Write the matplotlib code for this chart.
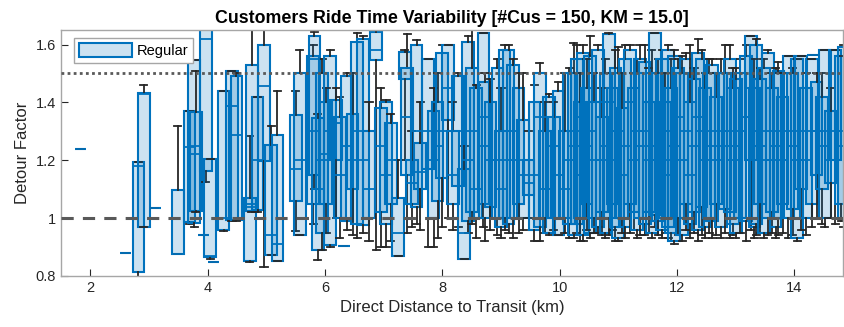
import matplotlib
matplotlib.use("Agg")
import matplotlib.pyplot as plt
from matplotlib.patches import Patch

plt.rcParams["font.family"] = ["Liberation Sans", "DejaVu Sans"]

# per-customer direct distance (km) and ride-time detour statistics
dist = [1.83, 2.60, 2.82, 2.91, 3.10, 3.49, 3.69, 3.77, 3.80, 3.93,
        3.97, 4.04, 4.10, 4.27, 4.41, 4.49, 4.72, 4.75, 4.85, 4.96,
        5.08, 5.19, 5.50, 5.57, 5.80, 5.82, 5.88, 5.95, 6.02, 6.09,
        6.19, 6.25, 6.32, 6.38, 6.47, 6.55, 6.65, 6.75, 6.87, 6.95,
        7.04, 7.12, 7.25, 7.36, 7.40, 7.48, 7.56, 7.62, 7.76, 7.85,
        7.92, 8.00, 8.10, 8.18, 8.27, 8.37, 8.44, 8.50, 8.58, 8.70,
        8.72, 8.82, 8.94, 9.00, 9.06, 9.13, 9.21, 9.30, 9.38, 9.47,
        9.57, 9.66, 9.75, 9.82, 9.90, 9.98, 10.09, 10.16, 10.24, 10.29,
        10.35, 10.40, 10.46, 10.52, 10.58, 10.65, 10.72, 10.78, 10.84, 10.90,
        10.95, 11.00, 11.06, 11.12, 11.20, 11.26, 11.32, 11.37, 11.45, 11.52,
        11.57, 11.62, 11.68, 11.75, 11.80, 11.85, 11.90, 11.95, 12.02, 12.09,
        12.15, 12.22, 12.29, 12.36, 12.42, 12.48, 12.55, 12.60, 12.67, 12.75,
        12.82, 12.90, 12.95, 13.00, 13.08, 13.18, 13.26, 13.32, 13.35, 13.42,
        13.48, 13.55, 13.62, 13.68, 13.73, 13.80, 13.90, 13.97, 14.05, 14.12,
        14.20, 14.30, 14.32, 14.38, 14.47, 14.52, 14.62, 14.70, 14.80, 14.84]

whisk_lo = [1.24, 0.88, 0.78, 0.97, 1.035, 0.876, 0.98, 0.97, 1.02, 0.94,
            1.124, 0.86, 0.848, 0.955, 0.99, 0.99, 0.85, 1.02, 1.02, 0.83,
            0.872, 0.852, 0.955, 0.94, 0.98, 1.10, 0.855, 0.89, 0.95, 0.90,
            1.00, 0.93, 0.905, 0.96, 0.94, 0.93, 0.95, 0.92, 0.89, 0.90,
            0.90, 0.92, 0.87, 1.20, 0.95, 0.97, 0.98, 0.96, 0.90, 0.90,
            0.93, 0.97, 1.00, 0.96, 0.97, 0.86, 0.95, 0.98, 0.93, 0.97,
            0.92, 0.96, 0.94, 0.93, 0.96, 0.95, 0.93, 0.95, 0.96, 1.00,
            0.92, 0.92, 0.95, 0.94, 0.96, 0.94, 0.95, 0.93, 0.93, 0.95,
            0.92, 0.92, 0.96, 0.93, 0.95, 0.95, 0.94, 0.93, 0.94, 0.96,
            0.92, 0.92, 0.95, 0.93, 0.95, 0.96, 0.93, 0.94, 0.94, 0.95,
            0.93, 0.97, 0.94, 0.93, 0.95, 0.93, 0.92, 0.91, 0.94, 0.92,
            0.96, 0.93, 0.95, 0.92, 0.94, 0.93, 0.95, 0.93, 0.94, 0.93,
            0.95, 0.93, 0.94, 0.93, 0.95, 0.92, 0.96, 0.93, 0.94, 0.95,
            0.93, 0.94, 0.95, 0.93, 0.94, 0.95, 0.93, 0.94, 0.92, 0.96,
            0.94, 0.97, 1.565, 1.00, 0.98, 0.97, 1.00, 0.98, 0.99, 0.97]

q1 = [1.24, 0.88, 0.815, 0.97, 1.035, 0.876, 0.985, 0.983, 1.024, 0.94,
      1.162, 0.865, 0.848, 0.959, 0.993, 0.993, 0.852, 1.024, 1.028, 1.197,
      0.872, 0.852, 1.06, 0.94, 1.048, 1.148, 0.889, 0.95, 1.05, 0.907,
      1.20, 1.00, 0.905, 0.99, 1.10, 0.98, 0.976, 1.00, 1.545, 1.02,
      0.98, 1.05, 0.87, 1.48, 1.15, 1.05, 1.04, 1.10, 1.17, 1.00,
      1.06, 1.14, 1.34, 1.05, 1.11, 0.86, 0.99, 1.02, 1.00, 1.05,
      1.00, 1.04, 1.00, 0.97, 1.00, 0.98, 1.00, 1.05, 1.00, 1.08,
      0.96, 0.97, 1.00, 0.95, 1.00, 0.94, 1.00, 0.98, 0.94, 0.98,
      1.00, 0.94, 1.05, 0.95, 1.00, 0.97, 1.02, 0.95, 1.00, 1.05,
      0.97, 0.93, 1.00, 0.97, 1.05, 1.02, 0.96, 1.00, 0.98, 1.02,
      0.95, 1.01, 0.99, 0.96, 1.00, 0.97, 0.95, 0.92, 1.00, 0.94,
      1.05, 0.98, 1.02, 0.96, 1.04, 0.97, 1.00, 0.99, 1.05, 0.97,
      1.03, 1.02, 0.98, 0.95, 1.00, 0.99, 1.20, 0.97, 0.98, 1.05,
      0.95, 1.00, 1.02, 0.97, 1.00, 1.05, 1.00, 1.03, 0.93, 1.10,
      1.00, 1.05, 1.565, 1.15, 1.10, 1.00, 1.12, 1.20, 1.05, 1.00]

med = [1.24, 0.88, 1.18, 1.43, 1.035, 0.876, 1.245, 1.25, 1.22, 0.94,
       1.62, 0.87, 0.848, 1.00, 1.386, 1.286, 1.04, 1.05, 1.20, 1.455,
       0.94, 0.91, 1.17, 1.20, 1.30, 1.55, 1.10, 1.20, 1.22, 1.30,
       1.33, 1.15, 0.905, 1.25, 1.20, 1.30, 1.20, 1.10, 1.58, 1.25,
       1.15, 1.20, 0.95, 1.52, 1.35, 1.12, 1.30, 1.16, 1.30, 1.20,
       1.25, 1.30, 1.45, 1.15, 1.30, 0.95, 1.20, 1.30, 1.10, 1.35,
       1.25, 1.20, 1.20, 1.10, 1.30, 1.20, 1.30, 1.20, 1.15, 1.12,
       1.15, 1.35, 1.10, 1.10, 1.25, 1.15, 1.10, 1.20, 1.25, 1.30,
       1.15, 1.35, 1.25, 1.30, 1.20, 1.40, 1.20, 1.25, 1.40, 1.30,
       1.20, 1.30, 1.15, 1.25, 1.40, 1.20, 1.30, 1.25, 1.30, 1.20,
       1.25, 1.40, 1.20, 1.30, 1.15, 1.30, 1.20, 1.25, 1.35, 1.20,
       1.30, 1.15, 1.25, 1.35, 1.30, 1.20, 1.30, 1.25, 1.20, 1.30,
       1.25, 1.30, 1.20, 1.25, 1.30, 1.35, 1.45, 1.20, 1.30, 1.25,
       1.20, 1.30, 1.20, 1.25, 1.30, 1.20, 1.30, 1.25, 1.20, 1.30,
       1.20, 1.30, 1.565, 1.30, 1.25, 1.30, 1.20, 1.30, 1.30, 1.25]

q3 = [1.24, 0.88, 1.195, 1.434, 1.035, 1.097, 1.369, 1.545, 1.366, 0.94,
      1.70, 1.203, 0.848, 1.438, 1.507, 1.493, 1.069, 1.531, 1.417, 1.597,
      1.252, 1.286, 1.355, 1.50, 1.559, 1.631, 1.345, 1.50, 1.40, 1.562,
      1.41, 1.35, 0.905, 1.49, 1.36, 1.61, 1.62, 1.30, 1.645, 1.38,
      1.40, 1.33, 1.07, 1.575, 1.52, 1.20, 1.60, 1.26, 1.55, 1.37,
      1.40, 1.57, 1.60, 1.30, 1.49, 1.17, 1.61, 1.52, 1.45, 1.64,
      1.47, 1.40, 1.52, 1.30, 1.58, 1.58, 1.53, 1.45, 1.34, 1.20,
      1.40, 1.50, 1.30, 1.42, 1.35, 1.44, 1.30, 1.50, 1.50, 1.55,
      1.40, 1.57, 1.45, 1.56, 1.40, 1.58, 1.35, 1.50, 1.635, 1.45,
      1.52, 1.50, 1.38, 1.55, 1.58, 1.45, 1.50, 1.55, 1.54, 1.40,
      1.50, 1.64, 1.50, 1.55, 1.40, 1.58, 1.45, 1.56, 1.52, 1.50,
      1.55, 1.40, 1.48, 1.57, 1.55, 1.45, 1.50, 1.53, 1.42, 1.50,
      1.50, 1.55, 1.45, 1.48, 1.50, 1.56, 1.63, 1.45, 1.60, 1.48,
      1.52, 1.57, 1.45, 1.50, 1.51, 1.42, 1.56, 1.50, 1.55, 1.56,
      1.45, 1.55, 1.565, 1.47, 1.42, 1.58, 1.37, 1.58, 1.56, 1.59]

whisk_hi = [1.24, 0.88, 1.195, 1.46, 1.035, 1.32, 1.37, 1.545, 1.507, 0.94,
            1.75, 1.203, 0.848, 1.438, 1.507, 1.50, 1.283, 1.70, 1.417, 1.70,
            1.32, 1.441, 1.438, 1.58, 1.60, 1.645, 1.36, 1.55, 1.45, 1.58,
            1.45, 1.42, 0.905, 1.50, 1.50, 1.64, 1.63, 1.40, 1.65, 1.45,
            1.41, 1.36, 1.20, 1.58, 1.635, 1.30, 1.614, 1.40, 1.55, 1.45,
            1.50, 1.60, 1.60, 1.40, 1.50, 1.25, 1.63, 1.70, 1.46, 1.64,
            1.50, 1.48, 1.55, 1.45, 1.60, 1.597, 1.55, 1.50, 1.50, 1.30,
            1.46, 1.537, 1.40, 1.43, 1.40, 1.47, 1.50, 1.52, 1.607, 1.60,
            1.50, 1.60, 1.55, 1.63, 1.50, 1.60, 1.45, 1.55, 1.64, 1.50,
            1.58, 1.59, 1.50, 1.60, 1.60, 1.50, 1.55, 1.60, 1.60, 1.52,
            1.58, 1.64, 1.55, 1.58, 1.50, 1.60, 1.55, 1.58, 1.55, 1.56,
            1.57, 1.60, 1.52, 1.62, 1.58, 1.50, 1.55, 1.55, 1.50, 1.55,
            1.60, 1.60, 1.52, 1.52, 1.55, 1.60, 1.63, 1.55, 1.62, 1.52,
            1.55, 1.58, 1.50, 1.52, 1.54, 1.50, 1.56, 1.52, 1.55, 1.56,
            1.50, 1.55, 1.565, 1.50, 1.50, 1.58, 1.45, 1.58, 1.56, 1.60]

title = "Customers Ride Time Variability [#Cus = 150, KM = 15.0]"

stats = [
    {"whislo": lo, "q1": a, "med": m, "q3": b, "whishi": hi, "fliers": []}
    for lo, a, m, b, hi in zip(whisk_lo, q1, med, q3, whisk_hi)
]

blue = "#0072BD"
fill = (0.0, 0.447, 0.741, 0.2)

fig = plt.figure(figsize=(8.44, 3.27), dpi=100)
ax = fig.add_axes([0.0723, 0.156, 0.9265, 0.752])

ax.bxp(
    stats,
    positions=dist,
    widths=0.2,
    capwidths=0.12,
    patch_artist=True,
    showfliers=False,
    manage_ticks=False,
    boxprops=dict(facecolor=fill, edgecolor=blue, linewidth=1.5),
    medianprops=dict(color=blue, linewidth=1.3),
    whiskerprops=dict(color="#262626", linewidth=1.3),
    capprops=dict(color="#262626", linewidth=1.3),
)

ax.axhline(1.0, color="#595959", linestyle=(0, (4, 3)), linewidth=2.2, zorder=5)
ax.axhline(1.5, color="#595959", linestyle=(0, (1, 1.2)), linewidth=2.0, zorder=5)

ax.set_xlim(1.5, 14.83)
ax.set_ylim(0.8, 1.65)
ax.set_xticks([2, 4, 6, 8, 10, 12, 14])
ax.set_yticks([0.8, 1.0, 1.2, 1.4, 1.6])
ax.set_yticklabels(["0.8", "1", "1.2", "1.4", "1.6"])
ax.tick_params(direction="in", length=5, labelsize=10.5, colors="#262626")
for side in ["left", "bottom", "top", "right"]:
    ax.spines[side].set_color("#a6a6a6")
    ax.spines[side].set_linewidth(1.0)

ax.set_xlabel("Direct Distance to Transit (km)", fontsize=12, color="#262626")
ax.set_ylabel("Detour Factor", fontsize=12, color="#262626", labelpad=4)
ax.set_title(title, fontsize=12.8, fontweight="bold", pad=5)

handle = Patch(facecolor=fill, edgecolor=blue, linewidth=1.5, label="Regular")
ax.legend(handles=[handle], loc="upper left", fancybox=False, framealpha=1,
          edgecolor="#a6a6a6", fontsize=10.5, handlelength=3.6, handleheight=1.1,
          handletextpad=0.3, borderpad=0.35, borderaxespad=0,
          bbox_to_anchor=(0.017, 0.967))

fig.savefig("out.png", dpi=100)
